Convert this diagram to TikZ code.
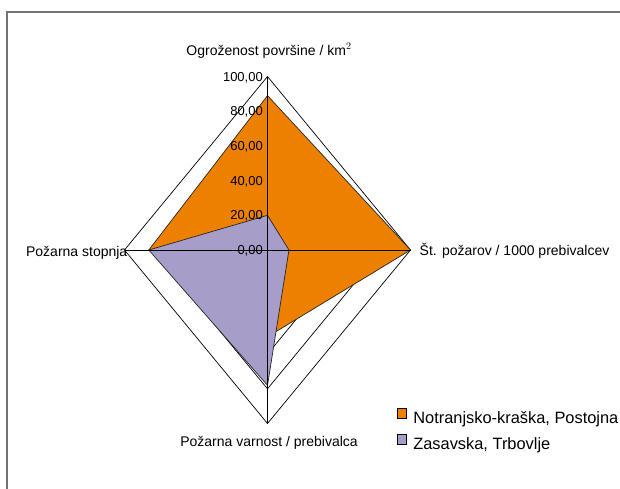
\documentclass[tikz,border=0pt]{standalone}
\usepackage{fontspec}
\setmainfont{Liberation Sans}
\usetikzlibrary{positioning, calc}
\definecolor{oranzna}{RGB}{238,128,0}
\definecolor{vijola}{RGB}{166,158,201}
\tikzstyle{axlabel} = [font=\fontsize{14}{14}\selectfont, inner sep=0pt]
\tikzstyle{ticklabel} = [font=\fontsize{13}{13}\selectfont, inner sep=0pt, anchor=base east]
\tikzstyle{gridline} = [draw=black, line width=0.7pt]
\tikzstyle{series} = [draw=black!85, line width=0.7pt, line join=miter]
\tikzstyle{legbox} = [rectangle, draw=black, line width=0.7pt, minimum size=9.5pt, inner sep=0pt]
\tikzstyle{legtext} = [font=\fontsize{16.4}{16.4}\selectfont, inner sep=0pt, anchor=base west, yshift=-5.8pt]

\begin{document}
\begin{tikzpicture}[x=1pt, y=-1pt]
    \useasboundingbox (0,0) rectangle (620,488);
    %外框
    \draw [black!55, line width=2pt] (7,500) -- (7,12) -- (640,12);

    %定义坐标轴端点
    \coordinate (c) at (267.5,250);
    \coordinate (T) at (267.5,76.5);
    \coordinate (R) at (410.5,250);
    \coordinate (B) at (267.5,423.5);
    \coordinate (L) at (124.5,250);

    %网格
    \foreach \f in {0.2,0.4,0.6,0.8,1}
        \draw [gridline] ($(c)!\f!(T)$) -- ($(c)!\f!(R)$) -- ($(c)!\f!(B)$) -- ($(c)!\f!(L)$) -- cycle;

    %数据
    \filldraw [series, fill=oranzna] ($(c)!0.89!(T)$) -- ($(c)!1!(R)$) -- ($(c)!0.50!(B)$) -- ($(c)!0.83!(L)$) -- cycle;
    \filldraw [series, fill=vijola] ($(c)!0.20!(T)$) -- ($(c)!0.15!(R)$) -- ($(c)!0.78!(B)$) -- ($(c)!0.83!(L)$) -- cycle;

    %坐标轴
    \draw [gridline] (c) -- (T);
    \draw [gridline] (c) -- (R);
    \draw [gridline] (c) -- (B);
    \draw [gridline] (c) -- (L);

    %刻度
    \foreach \v/\f in {0/0, 20/0.2, 40/0.4, 60/0.6, 80/0.8, 100/1}
        \node (t\v) [ticklabel, xshift=-4.5pt, yshift=-4.6pt] at ($(c)!\f!(T)$) {\v,00};

    %轴标签
    \node (ogr) [axlabel, above=21.5pt of T, anchor=base, xshift=1.5pt] {Ogroženost površine / km$^2$};
    \node (stev) [axlabel, right=9pt of R, anchor=base west, yshift=-5pt] {Št. požarov / 1000 prebivalcev};
    \node (varn) [axlabel, below=23pt of B, anchor=base, xshift=1.5pt] {Požarna varnost / prebivalca};
    \node (stop) [axlabel, left=-3pt of L, anchor=base east, yshift=-6pt] {Požarna stopnja};

    %图例
    \node (box1) [legbox, fill=oranzna] at (402,413.5) {};
    \node (box2) [legbox, fill=vijola, below=15.5pt of box1] {};
    \node (leg1) [legtext, right=6pt of box1] {Notranjsko-kraška, Postojna};
    \node (leg2) [legtext, right=6pt of box2] {Zasavska, Trbovlje};
\end{tikzpicture}
\end{document}
